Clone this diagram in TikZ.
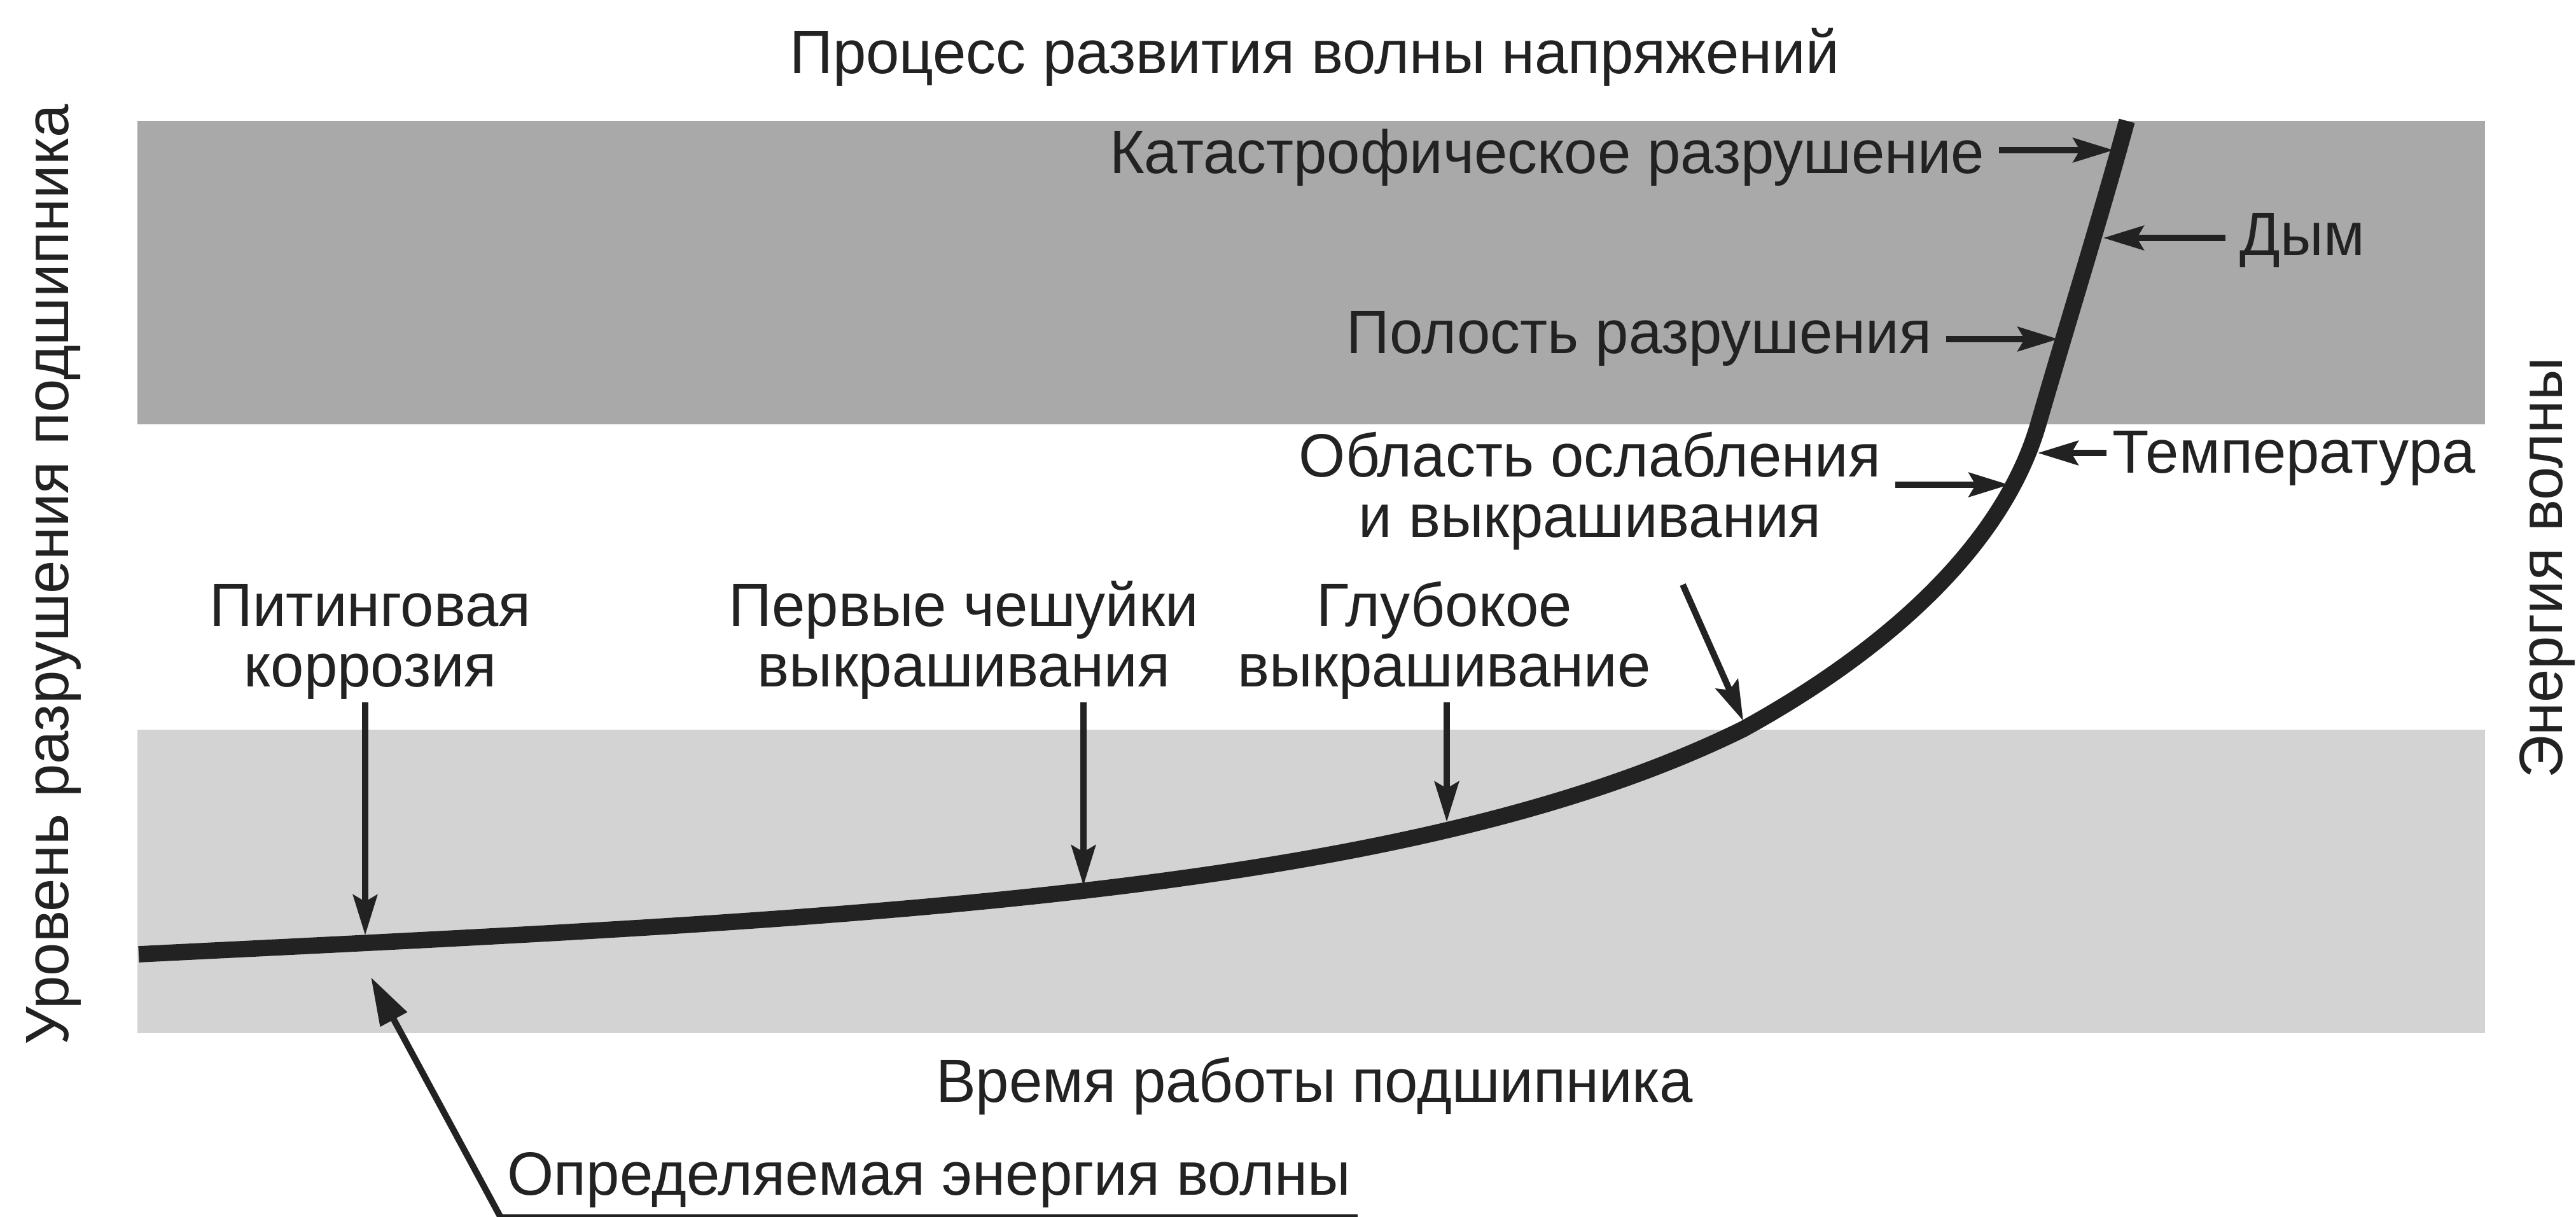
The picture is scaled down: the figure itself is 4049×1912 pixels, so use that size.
\documentclass[tikz,border=0pt]{standalone}
\usepackage{fontspec}
\setmainfont[FakeStretch=0.98]{Liberation Sans}
\usepackage{tikz}
\usetikzlibrary{arrows.meta,positioning}
\definecolor{ink}{HTML}{222222}
\definecolor{darkband}{HTML}{A9A9A9}
\definecolor{lightband}{HTML}{D3D3D3}
\newcommand{\thinw}{2.85pt}
\newcommand{\thickw}{7.3pt}

\begin{document}
\begin{tikzpicture}[x=0.01cm,y=-0.01cm,
        font=\fontsize{27.3}{27}\selectfont,
        every node/.style={text=ink},
        lbl/.style={inner sep=0.22cm},
        stack/.style={inner sep=0.04cm, align=center, anchor=south},
        arr/.style={draw=ink, line width=\thinw, -{Stealth[length=18pt,width=10.8pt,inset=3pt]}},
        bigarr/.style={draw=ink, line width=\thinw, {Triangle[length=21.5pt,width=13pt]}-}]
        %\draw[help lines] (0,0) grid (4049,1912);
        \useasboundingbox (0,0) rectangle (4049,1912);
        \fill[darkband] (216,190) rectangle (3906,667);
        \fill[lightband] (216,1147) rectangle (3906,1624);
        % wave curve
        \draw[ink, line width=\thickw] (218,1500) .. controls (1300,1446) and (2200,1412) .. (2740,1146)
                .. controls (2940,1036) and (3144,873) .. (3204,666)
                .. controls (3250,507) and (3305,330) .. (3343,190);
        \coordinate (k1) at (3322,236);
        \coordinate (d1) at (3306,374);
        \coordinate (p1) at (3235,533);
        \coordinate (t1) at (3203,712);
        \coordinate (o1) at (3158,762);
        \coordinate (o2) at (2740,1133);
        \coordinate (g1) at (2274,1292);
        \coordinate (v1) at (1703,1392);
        \coordinate (pt1) at (574,1470);
        \coordinate (e1) at (583,1536);
        % labels
        \node[anchor=base, inner sep=0] (title) at (2066,115) {Процесс развития волны напряжений};
        \node[lbl, anchor=base east] (kat) at (3142,272) {Катастрофическое разрушение};
        \node[lbl, anchor=base west] (dym) at (3498,401) {Дым};
        \node[lbl, anchor=base east] (pol) at (3059,555) {Полость разрушения};
        \node[lbl, anchor=south, align=center] (obl) at (2499,887) {Область ослабления\\и выкрашивания};
        \node[lbl, inner xsep=0.09cm, anchor=base west] (temp) at (3311,743) {Температура};
        \node[stack] (pit) at (582,1104) {Питинговая\\коррозия};
        \node[stack] (perv) at (1515,1104) {Первые чешуйки\\выкрашивания};
        \node[stack] (glub) at (2270,1104) {Глубокое\\выкрашивание};
        \node[anchor=base, inner sep=0] (time) at (2066,1732) {Время работы подшипника};
        \node[inner xsep=0.1cm, inner ysep=0.15cm, anchor=base west] (opr) at (787,1878) {Определяемая энергия волны};
        \node[rotate=90, anchor=base, inner sep=0] (ylbl) at (107,903) {Уровень разрушения подшипника};
        \node[rotate=90, anchor=base, inner sep=0] (elbl) at (4027,893) {Энергия волны};
        % arrows
        \draw[arr] (kat.east |- k1) -- (k1);
        \draw[arr] (dym.west |- d1) -- (d1);
        \draw[arr] (pol.east |- p1) -- (p1);
        \draw[arr] (obl.east |- o1) -- (o1);
        \draw[arr] (temp.west |- t1) -- (t1);
        \draw[arr] (obl.south) ++(146,32) -- (o2);
        \draw[arr] (pit.south -| pt1) -- (pt1);
        \draw[arr] (perv.south -| v1) -- (v1);
        \draw[arr] (glub.south -| g1) -- (g1);
        \draw[bigarr] (e1) -- (opr.south west) -- (opr.south east);
\end{tikzpicture}
\end{document}
